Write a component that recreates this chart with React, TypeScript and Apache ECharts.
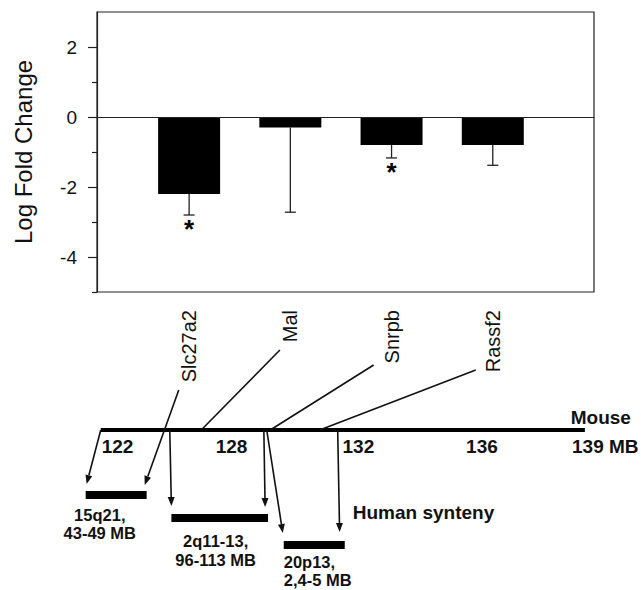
import React, { useEffect, useRef } from "react";
import * as echarts from "echarts";

// ---- top panel data ----
const genes = ["Slc27a2", "Mal", "Snrpb", "Rassf2"];
const genePos = [1, 2, 3, 4];
const logFold = [-2.2, -0.3, -0.8, -0.8];
const errorLow = [-2.8, -2.72, -1.17, -1.38];
const significant = [true, false, true, false];
const yMajorTicks = [-4, -2, 0, 2];
const yMinorTicks = [-5, -3, -1, 1];

// ---- lower schematic (x: mouse chr position in MB, y: row index downward) ----
const chromosome = [123.92, 13, 139.0, 13];
const mouseTickLabels = ["122", "128", "132", "136", "139 MB"];
const mouseTickPos = [123.95, 127.5, 131.45, 135.3, 138.6];
const mouseTickRow = 14.6;
const mouseLabel = "Mouse";
const mouseLabelPos = [138.56, 11.7];
const geneConnectors = [
  [129.5, 5, 127.05, 13],
  [132.42, 6.5, 129.2, 13],
  [135.6, 7, 130.74, 13],
];
const syntenyArrows = [
  [123.92, 13, 123.48, 18.4],
  [126.35, 9, 125.29, 18.5],
  [126.07, 13, 126.12, 20.6],
  [129.0, 13, 129.04, 20.7],
  [129.09, 13, 129.59, 23.3],
  [131.3, 13, 131.36, 23.2],
];
const humanStart = [123.45, 126.12, 129.62];
const humanEnd = [125.35, 129.13, 131.52];
const humanRow = [19.5, 21.8, 24.5];
const humanLabels = ["15q21,\n43-49 MB", "2q11-13,\n96-113 MB", "20p13,\n2,4-5 MB"];
const humanLabelPos = [
  [123.89, 22.4],
  [127.5, 25.05],
  [129.62, 27.1],
];
const humanLabelAlign = ["center", "center", "left"];
const humanTitle = "Human synteny";
const humanTitlePos = [131.77, 21.2];

const FONT = "'Liberation Sans', Arial, Helvetica, sans-serif";
const INK = "#111";

export default function App() {
  const ref = useRef<HTMLDivElement>(null);

  useEffect(() => {
    if (!ref.current) return;
    const chart = echarts.init(ref.current, undefined, { renderer: "svg" });

    const textItems: any[] = [];
    mouseTickLabels.forEach((t, i) =>
      textItems.push({ value: [mouseTickPos[i], mouseTickRow], text: t, align: "left", size: 19, lh: 22 })
    );
    textItems.push({ value: mouseLabelPos, text: mouseLabel, align: "left", size: 19, lh: 22 });
    humanLabels.forEach((t, i) =>
      textItems.push({ value: humanLabelPos[i], text: t, align: humanLabelAlign[i], size: 16.5, lh: 18.5 })
    );
    textItems.push({ value: humanTitlePos, text: humanTitle, align: "left", size: 19, lh: 22 });

    const option: any = {
      animation: false,
      backgroundColor: "#fff",
      grid: [
        { left: 97, top: 12, width: 497, height: 280, show: true, borderColor: "#222", borderWidth: 1.2, backgroundColor: "transparent" },
        { left: 7, top: 300, width: 610, height: 290 },
      ],
      xAxis: [
        {
          type: "value",
          gridIndex: 0,
          min: 0.09,
          max: 5,
          axisLine: { show: true, lineStyle: { color: "#222", width: 1.2 } },
          axisTick: { show: true, customValues: genePos, length: 7, lineStyle: { color: "#222", width: 1.2 } },
          axisLabel: {
            customValues: genePos,
            formatter: (v: number) => {
              const i = genePos.indexOf(Math.round(v));
              return i >= 0 ? genes[i] : "";
            },
            rotate: 90,
            fontSize: 20,
            color: INK,
            margin: 18,
            fontFamily: FONT,
          },
          splitLine: { show: false },
        },
        { type: "value", gridIndex: 1, min: 121, max: 140, show: false },
      ],
      yAxis: [
        {
          type: "value",
          gridIndex: 0,
          min: -5,
          max: 3,
          interval: 1,
          axisLine: { show: true, lineStyle: { color: "#222", width: 1.2 } },
          axisTick: { show: true, customValues: yMajorTicks, length: 9, lineStyle: { color: "#222", width: 1.2 } },
          axisLabel: { customValues: yMajorTicks, fontSize: 19, color: INK, margin: 20, fontFamily: FONT },
          splitLine: { show: false },
          name: "Log Fold Change",
          nameLocation: "middle",
          nameRotate: 90,
          nameGap: 62,
          nameTextStyle: { fontSize: 24, color: INK, fontFamily: FONT },
        },
        {
          type: "value",
          gridIndex: 0,
          position: "left",
          min: -5,
          max: 3,
          interval: 1,
          axisLine: { show: false },
          axisTick: { show: true, customValues: yMinorTicks, length: 5, lineStyle: { color: "#222", width: 1.2 } },
          axisLabel: { show: false },
          splitLine: { show: false },
        },
        { type: "value", gridIndex: 1, min: 0, max: 29, inverse: true, show: false },
      ],
      series: [
        {
          type: "bar",
          xAxisIndex: 0,
          yAxisIndex: 0,
          barWidth: 62,
          data: genePos.map((x, i) => [x, logFold[i]]),
          itemStyle: { color: "#000" },
          markLine: {
            silent: true,
            symbol: ["none", "none"],
            label: { show: false },
            lineStyle: { color: "#222", width: 1.2, type: "solid" },
            data: [{ yAxis: 0 }],
          },
        },
        {
          type: "custom",
          xAxisIndex: 0,
          yAxisIndex: 0,
          data: genePos.map((x, i) => [x, logFold[i], errorLow[i]]),
          renderItem: (params: any, api: any) => {
            const top = api.coord([api.value(0), api.value(1)]);
            const bot = api.coord([api.value(0), api.value(2)]);
            const cap = 5.5;
            const st = { stroke: "#222", lineWidth: 1.3 };
            return {
              type: "group",
              children: [
                { type: "line", shape: { x1: top[0], y1: top[1], x2: bot[0], y2: bot[1] }, style: st },
                { type: "line", shape: { x1: bot[0] - cap, y1: bot[1], x2: bot[0] + cap, y2: bot[1] }, style: st },
              ],
            };
          },
        },
        {
          type: "custom",
          xAxisIndex: 0,
          yAxisIndex: 0,
          data: genePos.filter((_, i) => significant[i]).map((x) => [x, errorLow[genePos.indexOf(x)]]),
          renderItem: (params: any, api: any) => {
            const p = api.coord([api.value(0), api.value(1)]);
            return {
              type: "text",
              style: {
                text: "*",
                x: p[0],
                y: p[1] + 1,
                align: "center",
                verticalAlign: "top",
                fontSize: 26,
                fontWeight: "bold",
                fontFamily: FONT,
                fill: "#000",
              },
            };
          },
        },
        // chromosome line
        {
          type: "custom",
          xAxisIndex: 1,
          yAxisIndex: 2,
          data: [chromosome],
          renderItem: (params: any, api: any) => {
            const a = api.coord([api.value(0), api.value(1)]);
            const b = api.coord([api.value(2), api.value(3)]);
            return { type: "line", shape: { x1: a[0], y1: a[1], x2: b[0], y2: b[1] }, style: { stroke: "#000", lineWidth: 4 } };
          },
        },
        // gene connectors
        {
          type: "custom",
          xAxisIndex: 1,
          yAxisIndex: 2,
          data: geneConnectors,
          renderItem: (params: any, api: any) => {
            const a = api.coord([api.value(0), api.value(1)]);
            const b = api.coord([api.value(2), api.value(3)]);
            return { type: "line", shape: { x1: a[0], y1: a[1], x2: b[0], y2: b[1] }, style: { stroke: INK, lineWidth: 1.6 } };
          },
        },
        // synteny arrows
        {
          type: "custom",
          xAxisIndex: 1,
          yAxisIndex: 2,
          data: syntenyArrows,
          renderItem: (params: any, api: any) => {
            const a = api.coord([api.value(0), api.value(1)]);
            const b = api.coord([api.value(2), api.value(3)]);
            const dx = b[0] - a[0];
            const dy = b[1] - a[1];
            const len = Math.hypot(dx, dy) || 1;
            const ux = dx / len;
            const uy = dy / len;
            const hl = 9;
            const hw = 3.5;
            const base = [b[0] - ux * hl, b[1] - uy * hl];
            const l = [base[0] - uy * hw, base[1] + ux * hw];
            const r = [base[0] + uy * hw, base[1] - ux * hw];
            return {
              type: "group",
              children: [
                { type: "line", shape: { x1: a[0], y1: a[1], x2: base[0], y2: base[1] }, style: { stroke: INK, lineWidth: 1.6 } },
                { type: "polygon", shape: { points: [b, l, r] }, style: { fill: INK } },
              ],
            };
          },
        },
        // human synteny blocks
        {
          type: "custom",
          xAxisIndex: 1,
          yAxisIndex: 2,
          data: humanStart.map((s, i) => [s, humanRow[i], humanEnd[i]]),
          renderItem: (params: any, api: any) => {
            const a = api.coord([api.value(0), api.value(1)]);
            const b = api.coord([api.value(2), api.value(1)]);
            const h = 8;
            return { type: "rect", shape: { x: a[0], y: a[1] - h / 2, width: b[0] - a[0], height: h }, style: { fill: "#000" } };
          },
        },
        // texts
        {
          type: "custom",
          xAxisIndex: 1,
          yAxisIndex: 2,
          data: textItems,
          renderItem: (params: any, api: any) => {
            const item = textItems[params.dataIndex];
            const p = api.coord([api.value(0), api.value(1)]);
            return {
              type: "text",
              style: {
                text: item.text,
                x: p[0],
                y: p[1],
                align: item.align,
                verticalAlign: "middle",
                fontSize: item.size,
                lineHeight: item.lh,
                fontWeight: "bold",
                fontFamily: FONT,
                fill: INK,
              },
            };
          },
        },
      ],
    };

    chart.setOption(option);
    return () => chart.dispose();
  }, []);

  return (
    <div
      ref={ref}
      style={{ position: "absolute", left: 0, top: 0, width: 641, height: 590, background: "#fff" }}
    />
  );
}
